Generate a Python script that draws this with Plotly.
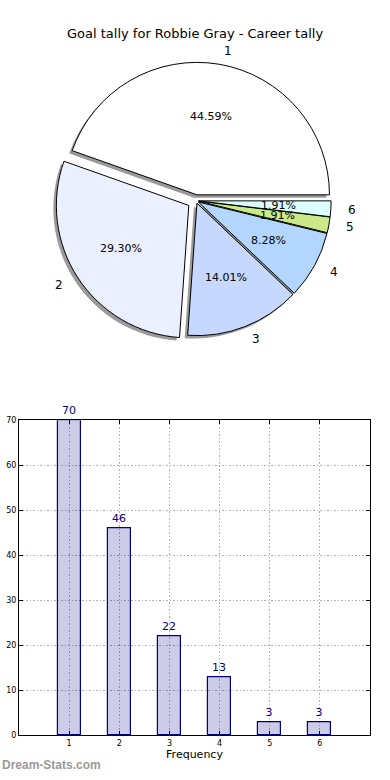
import math
import plotly.graph_objects as go

# ---- data ----
categories = ["1", "2", "3", "4", "5", "6"]
goals = [70, 46, 22, 13, 3, 3]
pie_colors = ["#FFFFFF", "#EAF0FF", "#C6D8FF", "#B3D6FF", "#CCE98A", "#DBFFFF"]
pulls = [0.045, 0.065, 0.02, 0.02, 0.02, 0.02]
title_text = "Goal tally for Robbie Gray - Career tally"
x_title = "Frequency"
watermark = "Dream-Stats.com"

W, H = 390, 780
FONT = "DejaVu Sans"

total = sum(goals)
# first slice starts at 3 o'clock and slices run counter-clockwise (matplotlib style)
rotation = 90 - 360 * goals[0] / total

# pie geometry in pixels
cx, cy, r = 196, 199, 134
half = r * (1 + max(pulls))


def px2x(x):
    return x / W


def px2y(y):
    return 1 - y / H


pie_dom = dict(x=[px2x(cx - half), px2x(cx + half)], y=[px2y(cy + half), px2y(cy - half)])
sdx, sdy = -3, 3
shadow_dom = dict(x=[px2x(cx - half + sdx), px2x(cx + half + sdx)],
                  y=[px2y(cy + half + sdy), px2y(cy - half + sdy)])

fig = go.Figure()

fig.add_trace(go.Pie(
    values=goals, labels=["s" + c for c in categories], sort=False,
    direction="counterclockwise", rotation=rotation, pull=pulls,
    marker=dict(colors=["#9a9a9a"] * len(goals), line=dict(width=0)),
    textinfo="none", hoverinfo="skip", domain=shadow_dom, showlegend=False,
))
fig.add_trace(go.Pie(
    values=goals, labels=categories, sort=False,
    direction="counterclockwise", rotation=rotation, pull=pulls,
    marker=dict(colors=pie_colors, line=dict(width=1, color="black")),
    textinfo="none", domain=pie_dom, showlegend=False,
))

fig.add_trace(go.Bar(
    x=[int(c) for c in categories], y=goals, width=0.46,
    marker=dict(color="rgba(0,0,128,0.2)", line=dict(color="navy", width=1.2)),
    text=[str(v) for v in goals], textposition="outside", cliponaxis=False,
    textfont=dict(color="navy", size=11, family=FONT),
    xaxis="x", yaxis="y", showlegend=False,
))

annotations = []
cum = 0
for lab, v, p in zip(categories, goals, pulls):
    mid = math.radians(360 * (cum + v / 2) / total)
    cum += v
    dx, dy = math.cos(mid), -math.sin(mid)
    ex, ey = cx + p * r * dx, cy + p * r * dy
    lx, ly = ex + 1.1 * r * dx, ey + 1.1 * r * dy
    annotations.append(dict(
        x=px2x(lx), y=px2y(ly), xref="paper", yref="paper", text=lab, showarrow=False,
        xanchor="left" if dx > 0 else "right", yanchor="middle",
        font=dict(family=FONT, size=12, color="black")))
    tx, ty = ex + 0.6 * r * dx, ey + 0.6 * r * dy
    annotations.append(dict(
        x=px2x(tx), y=px2y(ty), xref="paper", yref="paper",
        text=f"{v / total * 100:.2f}%", showarrow=False,
        xanchor="center", yanchor="middle",
        font=dict(family=FONT, size=11, color="black")))

annotations.append(dict(x=0.5, y=px2y(30), xref="paper", yref="paper", text=title_text,
                        showarrow=False, xanchor="center", yanchor="middle",
                        font=dict(family=FONT, size=13, color="black")))
annotations.append(dict(x=0.0, y=px2y(770), xref="paper", yref="paper",
                        text="<b>" + watermark + "</b>",
                        showarrow=False, xanchor="left", yanchor="middle",
                        font=dict(family="Liberation Sans", size=12, color="#9a9a9a")))

fig.update_layout(
    width=W, height=H,
    margin=dict(l=0, r=0, t=0, b=0),
    paper_bgcolor="white", plot_bgcolor="white",
    font=dict(family=FONT, color="black"),
    annotations=annotations,
    xaxis=dict(domain=[px2x(19), px2x(370)], range=[0, 7], tickvals=[1, 2, 3, 4, 5, 6],
               showgrid=True, gridcolor="#b0b0b0", griddash="1.5px,2px", gridwidth=1,
               showline=True, mirror="ticks", linecolor="black", linewidth=1,
               ticks="inside", ticklen=4, tickcolor="black", zeroline=False,
               tickfont=dict(size=8, family=FONT),
               title=dict(text=x_title, font=dict(size=11, family=FONT), standoff=2),
               anchor="y", fixedrange=True),
    yaxis=dict(domain=[px2y(740), px2y(421)], range=[0, 70], dtick=10,
               showgrid=True, gridcolor="#b0b0b0", griddash="1.5px,2px", gridwidth=1,
               showline=True, mirror="ticks", linecolor="black", linewidth=1,
               ticks="inside", ticklen=4, tickcolor="black", zeroline=False,
               tickfont=dict(size=8, family=FONT), anchor="x", fixedrange=True),
    bargap=0,
)

fig.write_html("out.html", config={"displayModeBar": False},
               post_script="document.body.style.margin='0';")
